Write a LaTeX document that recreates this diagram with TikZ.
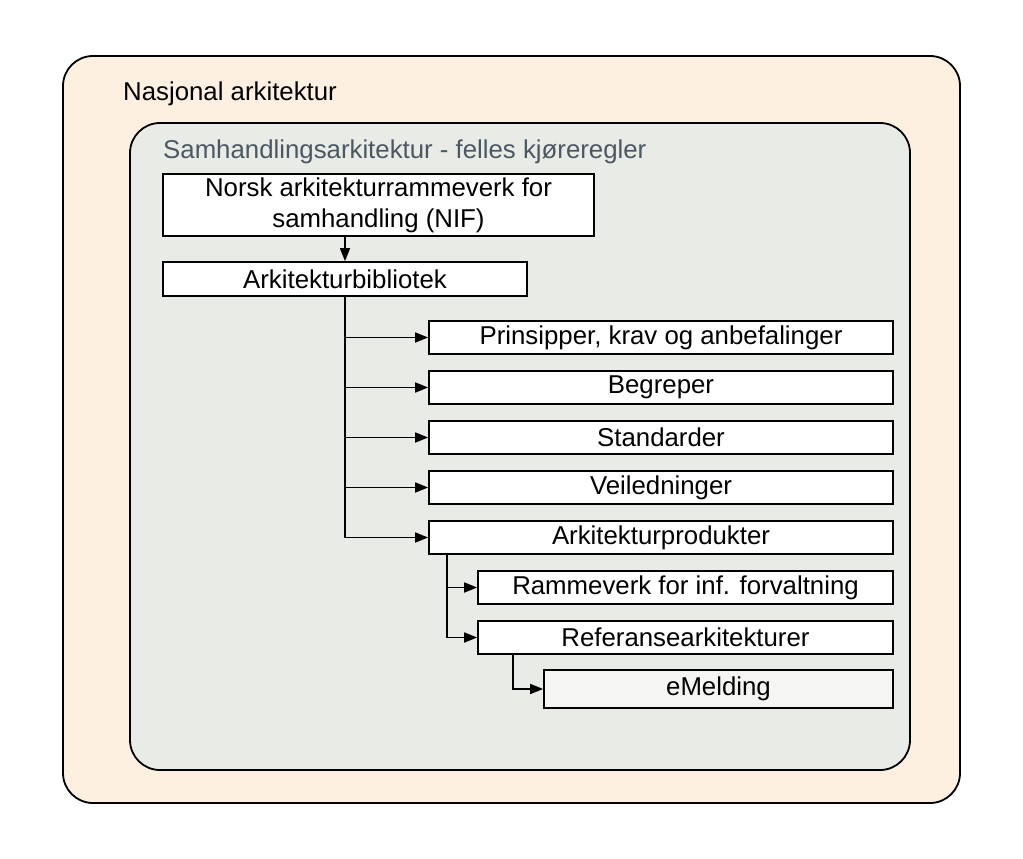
\documentclass[tikz,border=0pt]{standalone}
\usepackage{fontspec}
\setmainfont{Liberation Sans}
\usetikzlibrary{arrows.meta,positioning,calc}
\definecolor{nasjonalfill}{HTML}{FDF0E1}
\definecolor{samhfill}{HTML}{E9EBE7}
\definecolor{samhtext}{HTML}{4B5862}
\definecolor{leaffill}{HTML}{F5F5F3}
\tikzset{%
  frame/.style={draw,line width=1.8pt,rounded corners=30pt},
  box/.style={draw,fill=white,line width=1.7pt,align=center,minimum height=33pt,inner sep=0pt},
  arrow/.style={-{Triangle[length=13pt,width=10pt]},line width=1.7pt}%
}

\begin{document}
\begin{tikzpicture}[
    x=1pt,y=-1pt,
    font=\fontsize{25.8}{31}\selectfont
]
\useasboundingbox (0,0) rectangle (1023,859);

% Outer frames
\draw[frame,fill=nasjonalfill] (63,56) rectangle (960,803);
\node[anchor=west,inner sep=0pt] (nasjonal) at (123,94) {Nasjonal arkitektur};
\draw[frame,fill=samhfill] (130,123) rectangle (910,770);
\node[anchor=west,inner sep=0pt,text=samhtext] (samh) at (163,152) {Samhandlingsarkitektur - felles kjøreregler};

% Top boxes
\node[box,minimum width=431pt,minimum height=62pt] (nif) at (378.5,205) {Norsk arkitekturrammeverk for\\samhandling (NIF)};
\node[box,minimum width=364pt,minimum height=34pt] (lib) at (345,279) {Arkitekturbibliotek};
\draw[arrow] (lib.north |- nif.south) -- (lib.north);

% Library contents
\node[box,minimum width=464pt] (prinsipper) at (661,337.5) {Prinsipper, krav og anbefalinger};
\node[box,minimum width=464pt] (begreper) at (661,387.5) {Begreper};
\node[box,minimum width=464pt] (standarder) at (661,437.5) {Standarder};
\node[box,minimum width=464pt] (veiledninger) at (661,487.5) {Veiledninger};
\node[box,minimum width=464pt] (produkter) at (661,537.5) {Arkitekturprodukter};

\draw[arrow] (lib.south) |- (prinsipper.west);
\draw[arrow] (lib.south) |- (begreper.west);
\draw[arrow] (lib.south) |- (standarder.west);
\draw[arrow] (lib.south) |- (veiledninger.west);
\draw[arrow] (lib.south) |- (produkter.west);

% Architecture products
\node[box,minimum width=415pt] (rammeverk) at (685.5,587.5) {Rammeverk for inf. forvaltning};
\node[box,minimum width=415pt] (referanse) at (685.5,637.5) {Referansearkitekturer};
\node[box,fill=leaffill,minimum width=349pt,minimum height=38pt] (emelding) at (718.5,689) {eMelding};

\coordinate (prodfork) at ($(produkter.south west)+(19,0)$);
\draw[arrow] (prodfork) |- (rammeverk.west);
\draw[arrow] (prodfork) |- (referanse.west);
\coordinate (reffork) at ($(referanse.south west)+(36,0)$);
\draw[arrow] (reffork) |- (emelding.west);

\end{tikzpicture}
\end{document}
